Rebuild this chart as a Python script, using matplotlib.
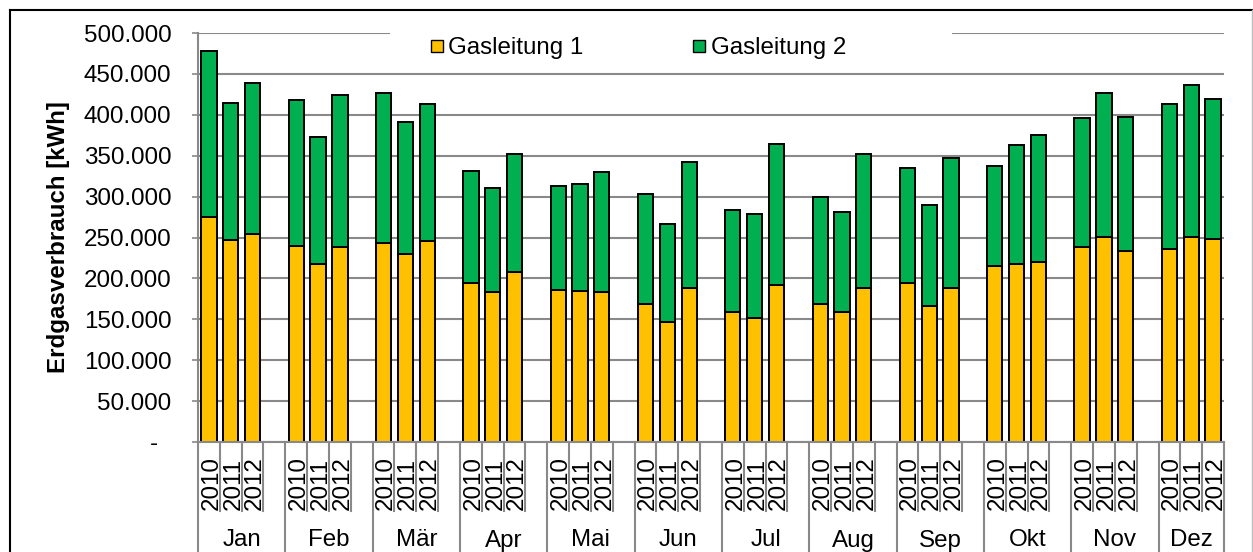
import matplotlib
matplotlib.use("Agg")
import matplotlib.pyplot as plt
import matplotlib.transforms as mtransforms
from matplotlib.lines import Line2D
from matplotlib.patches import Rectangle
from matplotlib.ticker import FuncFormatter, MultipleLocator
import numpy as np

plt.rcParams["font.family"] = ["Liberation Sans", "DejaVu Sans"]
FS = 17.4

# ---- data (kWh) ----
months = ["Jan", "Feb", "Mär", "Apr", "Mai", "Jun",
          "Jul", "Aug", "Sep", "Okt", "Nov", "Dez"]
years = ["2010", "2011", "2012"]

# one row per month, columns 2010 / 2011 / 2012
gasleitung_1 = [
    [275200, 246700, 253700],
    [239400, 217900, 238200],
    [243500, 229700, 245500],
    [193900, 183300, 207300],
    [185800, 184600, 182900],
    [168700, 146700, 187800],
    [158900, 152000, 191900],
    [168700, 158900, 187800],
    [194700, 166300, 188200],
    [215000, 217100, 220300],
    [238200, 250400, 233700],
    [235800, 250400, 248000],
]
gasleitung_2 = [
    [202800, 167900, 185700],
    [178900, 154500, 185800],
    [183700, 161400, 168300],
    [137400, 126900, 144700],
    [127200, 130800, 147600],
    [134600, 119600, 154100],
    [125200, 126900, 172700],
    [130900, 122800, 164600],
    [140700, 123900, 159000],
    [122800, 145900, 154500],
    [157700, 176400, 163500],
    [177600, 186600, 171100],
]
series_names = ["Gasleitung 1", "Gasleitung 2"]
series_colors = ["#FFC000", "#00B050"]

y_max = 500000
y_step = 50000

# ---- figure ----
W, H = 1253, 552
fig = plt.figure(figsize=(W / 100, H / 100), dpi=100)
ax_l, ax_r, ax_t, ax_b = 198, 1224, 33, 442
ax = fig.add_axes([ax_l / W, 1 - ax_b / H, (ax_r - ax_l) / W, (ax_b - ax_t) / H])

n_m, n_y = len(months), len(years)
slots_per_month = n_y + 1          # one empty slot between month groups
n_slots = n_m * slots_per_month - 1

g1 = np.array(gasleitung_1, dtype=float)
g2 = np.array(gasleitung_2, dtype=float)
pos = np.array([[m * slots_per_month + k for k in range(n_y)] for m in range(n_m)], dtype=float)

bar_kw = dict(width=0.70, edgecolor="black", linewidth=1.4, zorder=2)
ax.bar(pos.ravel(), g1.ravel(), color=series_colors[0], **bar_kw)
ax.bar(pos.ravel(), g2.ravel(), bottom=g1.ravel(), color=series_colors[1], **bar_kw)

ax.set_xlim(-0.5, n_slots - 0.5)
ax.set_ylim(0, y_max)
ax.yaxis.set_major_locator(MultipleLocator(y_step))


def fmt(v, _):
    if v == 0:
        return "-  "
    return f"{int(round(v)):,}".replace(",", ".")


ax.yaxis.set_major_formatter(FuncFormatter(fmt))
grid_c = "#898989"
ax.yaxis.grid(True, color=grid_c, linewidth=1.5)
ax.set_axisbelow(True)
ax.tick_params(axis="y", labelsize=FS, length=4.3, width=1.2, color=grid_c, pad=15)
ax.set_xticks([])
for s in ("top", "right"):
    ax.spines[s].set_visible(False)
for s in ("left", "bottom"):
    ax.spines[s].set_color(grid_c)
    ax.spines[s].set_linewidth(1.5)

ax.set_ylabel("Erdgasverbrauch [kWh]", fontsize=FS, fontweight="bold")
ax.yaxis.set_label_coords((69.5 - ax_l) / (ax_r - ax_l), 0.5)

# ---- two-level category axis ----
span = ax_b - ax_t
trans = mtransforms.blended_transform_factory(ax.transData, ax.transAxes)
year_tick_end = -(511 - ax_b) / span
month_tick_end = -(575 - ax_b) / span
line_kw = dict(color=grid_c, linewidth=1.5, clip_on=False, transform=trans)

for m in range(n_m):
    start = m * slots_per_month - 0.5
    ax.plot([start, start], [0, month_tick_end], **line_kw)
    for k in range(1, n_y + (1 if m < n_m - 1 else 0)):
        xb = start + k
        ax.plot([xb, xb], [0, year_tick_end], **line_kw)
ax.plot([n_slots - 0.5, n_slots - 0.5], [0, month_tick_end], **line_kw)

cap_shift = mtransforms.ScaledTranslation(0.716 * FS / 2 / 72, 0, fig.dpi_scale_trans)
for m in range(n_m):
    for k, yr in enumerate(years):
        ax.text(pos[m, k], -(483.5 - ax_b) / span, yr, rotation=90,
                rotation_mode="anchor", ha="center", va="baseline",
                fontsize=FS, transform=trans + cap_shift, clip_on=False)
    left_edge = m * slots_per_month - 0.5
    right_edge = min(left_edge + slots_per_month, n_slots - 0.5)
    ax.text((left_edge + right_edge) / 2, -(546.5 - ax_b) / span, months[m],
            ha="center", va="baseline", fontsize=FS, transform=trans, clip_on=False)

# ---- legend ----
cover = Rectangle(((390 - ax_l) / (ax_r - ax_l), (ax_b - 64) / span),
                  (952 - 390) / (ax_r - ax_l), 40 / span,
                  transform=ax.transAxes, facecolor="white", edgecolor="none",
                  zorder=3, clip_on=False)
ax.add_patch(cover)
handles = [Line2D([], [], linestyle="none", marker="s", markersize=8.8,
                  markerfacecolor=c, markeredgecolor="black", markeredgewidth=1.0)
           for c in series_colors]
leg = ax.legend(handles, series_names, ncol=2, loc="center left",
                bbox_to_anchor=(430 / W, 1 - 48 / H), bbox_transform=fig.transFigure,
                frameon=False, borderpad=0, borderaxespad=0, handlelength=0.55,
                handletextpad=0.2, columnspacing=4.52, prop={"size": FS})
leg.set_zorder(4)

# ---- chart frame ----
fig.add_artist(Line2D([9.5 / W, 9.5 / W], [0, 1 - 10 / H], color="black",
                      linewidth=1.5, transform=fig.transFigure))
fig.add_artist(Line2D([9.5 / W, 1252 / W], [1 - 10 / H, 1 - 10 / H], color="black",
                      linewidth=1.5, transform=fig.transFigure))
fig.add_artist(Line2D([1252 / W, 1252 / W], [0, 1 - 10 / H], color="#BDBDBD",
                      linewidth=1.0, transform=fig.transFigure))

fig.savefig("out.png", dpi=100)
